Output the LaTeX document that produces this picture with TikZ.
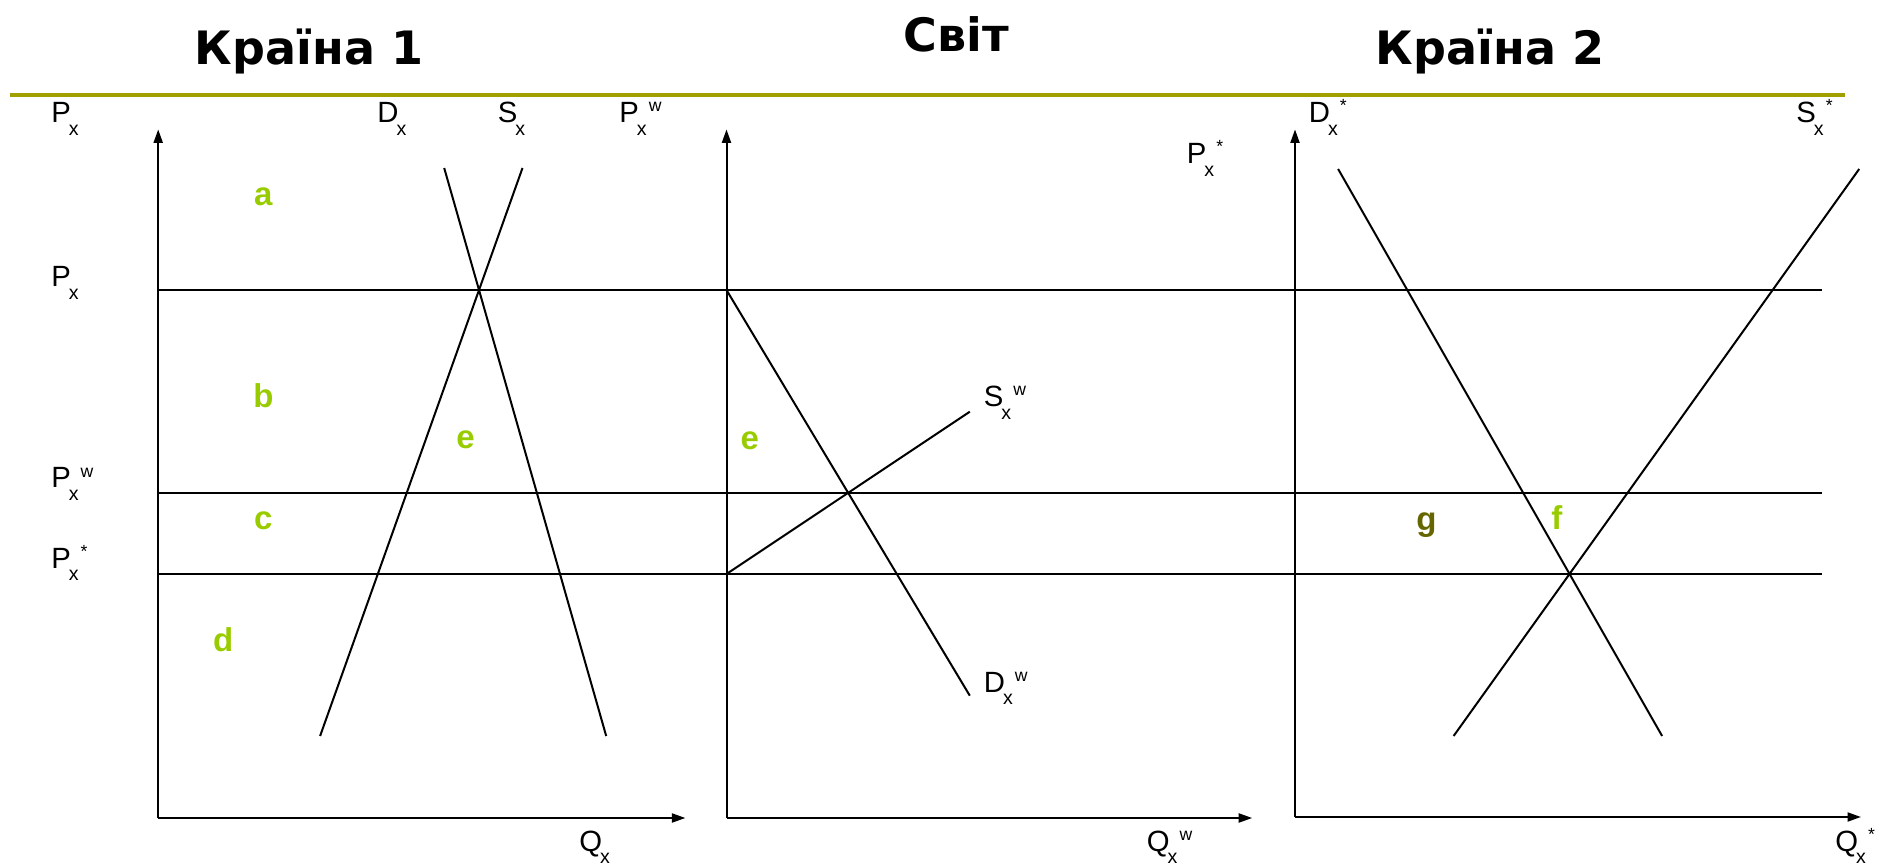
\documentclass[tikz,border=0pt]{standalone}
\usepackage{fontspec}
\setmainfont{Liberation Sans}
\newfontfamily\titlefont{DejaVu Sans}
\usetikzlibrary{arrows.meta}

\definecolor{olivebar}{RGB}{160,160,0}
\definecolor{areagreen}{RGB}{153,204,0}
\definecolor{areaolive}{RGB}{102,102,0}

\newcommand{\lsub}[1]{\kern-1pt\raisebox{-6.3pt}{\fontsize{9.8}{12}\selectfont #1}}
\newcommand{\lsup}[1]{\kern1pt\raisebox{5.5pt}{\fontsize{8.8}{12}\selectfont #1}}

\tikzset{
  axis/.style={line width=1pt, -{Triangle[length=6.75pt,width=4.5pt]}},
  curve/.style={line width=1pt},
  level/.style={line width=1.1pt},
  lbl/.style={font=\fontsize{14.65}{17}\selectfont, inner sep=0pt, anchor=base west},
  area/.style={font=\fontsize{16.5}{20}\selectfont\bfseries, text=areagreen, inner sep=0pt, anchor=base},
  title/.style={font=\titlefont\bfseries\fontsize{23}{28}\selectfont, inner sep=0pt, anchor=base},
}

\begin{document}
\begin{tikzpicture}[x=0.5pt, y=-0.5pt]
\useasboundingbox (0,0) rectangle (1879,865);

% headings
\node[title] (t1) at (309,65)   {Країна 1};
\node[title] (tw) at (956.5,52) {Світ};
\node[title] (t2) at (1490,65)  {Країна 2};
\coordinate (bar0) at (9.6,95);
\coordinate (bar1) at (1845,95);
\draw[olivebar, line width=2.25pt] (bar0) -- (bar1);

% axes
\coordinate (o1) at (158.2,818);  \coordinate (y1) at (158.2,129.4);  \coordinate (x1) at (685.4,818);
\coordinate (o2) at (726.5,818);  \coordinate (y2) at (726.5,129.4);  \coordinate (x2) at (1252.2,818);
\coordinate (o3) at (1295,817);   \coordinate (y3) at (1295,129.4);   \coordinate (x3) at (1861,817);
\draw[axis] (o1) -- (y1);
\draw[axis] (o1) -- (x1);
\draw[axis] (o2) -- (y2);
\draw[axis] (o2) -- (x2);
\draw[axis] (o3) -- (y3);
\draw[axis] (o3) -- (x3);

% price levels
\coordinate (px0) at (158.2,290);  \coordinate (px1) at (1821.5,290);
\coordinate (pw0) at (158.2,493);  \coordinate (pw1) at (1821.5,493);
\coordinate (ps0) at (158.2,574);  \coordinate (ps1) at (1821.5,574);
\draw[level] (px0) -- (px1);
\draw[level] (pw0) -- (pw1);
\draw[level] (ps0) -- (ps1);

% country 1
\coordinate (d1a) at (444.2,168);  \coordinate (d1b) at (606.2,736);
\coordinate (s1a) at (522.5,168);  \coordinate (s1b) at (320.1,736);
\draw[curve] (d1a) -- (d1b);
\draw[curve] (s1a) -- (s1b);

% world
\coordinate (dwa) at (726.5,290);  \coordinate (dwb) at (969.8,695.7);
\coordinate (swa) at (726.5,574);  \coordinate (swb) at (969.8,411.7);
\draw[curve] (dwa) -- (dwb);
\draw[curve] (swa) -- (swb);

% country 2
\coordinate (d2a) at (1338.1,169); \coordinate (d2b) at (1662.1,736);
\coordinate (s2a) at (1859.2,169); \coordinate (s2b) at (1453.6,736);
\draw[curve] (d2a) -- (d2b);
\draw[curve] (s2a) -- (s2b);

% labels
\node[lbl] (lp1)  at (51,123)     {P\lsub{x}};
\node[lbl] (ld1)  at (377,123)    {D\lsub{x}};
\node[lbl] (ls1)  at (497.5,123)  {S\lsub{x}};
\node[lbl] (lpw)  at (619,123)    {P\lsub{x}\lsup{w}};
\node[lbl] (ld2)  at (1308.5,123) {D\lsub{x}\lsup{*}};
\node[lbl] (ls2)  at (1796,123)   {S\lsub{x}\lsup{*}};
\node[lbl] (lpx)  at (51,286.7)   {P\lsub{x}};
\node[lbl] (lpxw) at (51,488)     {P\lsub{x}\lsup{w}};
\node[lbl] (lpxs) at (51,568)     {P\lsub{x}\lsup{*}};
\node[lbl] (lps)  at (1186.5,164) {P\lsub{x}\lsup{*}};
\node[lbl] (lsw)  at (983.5,407)  {S\lsub{x}\lsup{w}};
\node[lbl] (ldw)  at (983.5,692)  {D\lsub{x}\lsup{w}};
\node[lbl] (lq1)  at (579,851)    {Q\lsub{x}};
\node[lbl] (lqw)  at (1146.5,851) {Q\lsub{x}\lsup{w}};
\node[lbl] (lq2)  at (1835,851)   {Q\lsub{x}\lsup{*}};

% areas
\node[area] (ara) at (263.4,206)   {a};
\node[area] (arb) at (263.4,408)   {b};
\node[area] (are) at (465.6,449)   {e};
\node[area] (arc) at (263.4,530)   {c};
\node[area] (ard) at (223.2,651.7) {d};
\node[area] (arw) at (749.8,450)   {e};
\node[area, text=areaolive] (arg) at (1426.5,531) {g};
\node[area] (arf) at (1556.8,530)  {f};
\end{tikzpicture}
\end{document}
